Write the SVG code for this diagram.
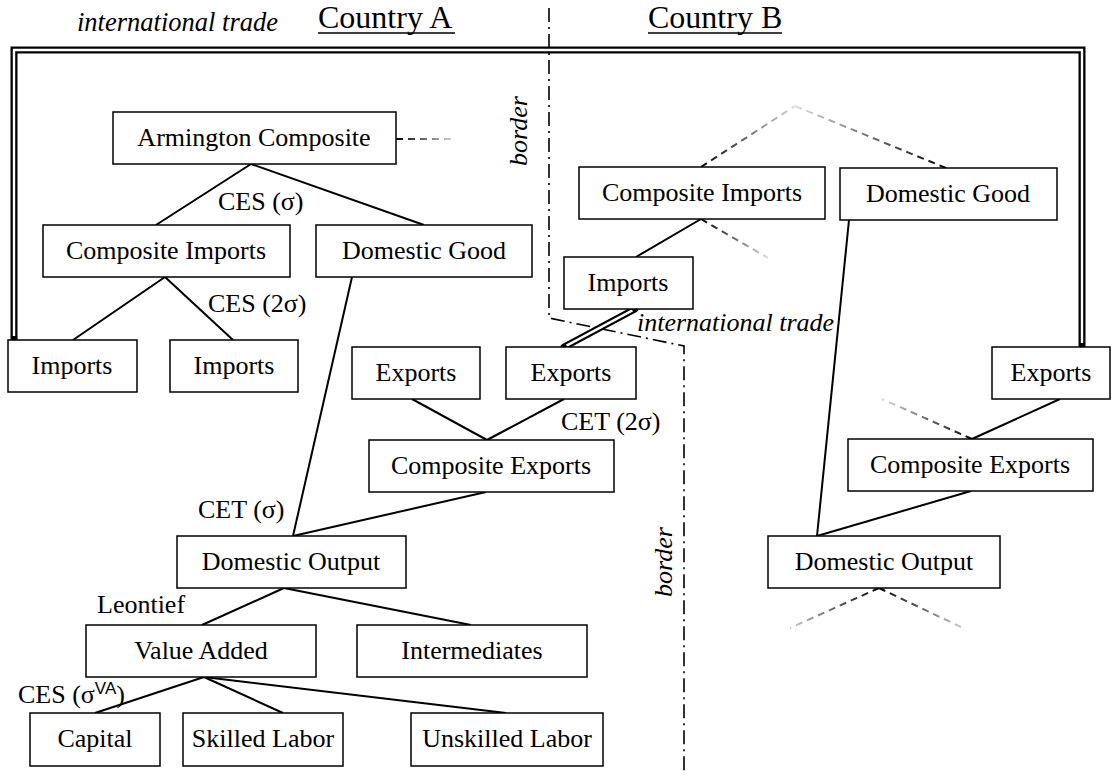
<svg xmlns="http://www.w3.org/2000/svg" width="1115" height="775" viewBox="0 0 1115 775">
<style>
text{font-family:"Liberation Serif","Times New Roman",serif;font-size:26px;fill:#000}
.lbl{text-anchor:middle}
.it{font-style:italic}
.sup{font-family:"Liberation Sans",Arial,sans-serif;font-size:17px}
.box{fill:#fff;stroke:#000;stroke-width:1.5}
.ln{stroke:#000;stroke-width:2;fill:none}
.dash{stroke-width:2;fill:none;stroke-dasharray:7 5}
.border{stroke:#000;stroke-width:1.6;fill:none;stroke-dasharray:14 5 2 5}
.tradeO{stroke:#000;stroke-width:7;fill:none;stroke-linecap:round;stroke-linejoin:miter}
.tradeI{stroke:#fff;stroke-width:2.4;fill:none;stroke-linejoin:miter}
</style>
<defs>
<linearGradient id="g1" gradientUnits="userSpaceOnUse" x1="396" y1="139" x2="455" y2="139"><stop offset="0" stop-color="#000"/><stop offset="1" stop-color="#ddd"/></linearGradient>
<linearGradient id="g2" gradientUnits="userSpaceOnUse" x1="701" y1="167" x2="795" y2="106"><stop offset="0" stop-color="#000"/><stop offset="1" stop-color="#ddd"/></linearGradient>
<linearGradient id="g3" gradientUnits="userSpaceOnUse" x1="946" y1="168" x2="795" y2="106"><stop offset="0" stop-color="#000"/><stop offset="1" stop-color="#ddd"/></linearGradient>
<linearGradient id="g4" gradientUnits="userSpaceOnUse" x1="701" y1="219" x2="768" y2="258"><stop offset="0" stop-color="#000"/><stop offset="1" stop-color="#ddd"/></linearGradient>
<linearGradient id="g5" gradientUnits="userSpaceOnUse" x1="972" y1="439" x2="882" y2="399"><stop offset="0" stop-color="#000"/><stop offset="1" stop-color="#ddd"/></linearGradient>
<linearGradient id="g6" gradientUnits="userSpaceOnUse" x1="879" y1="588" x2="790" y2="628"><stop offset="0" stop-color="#000"/><stop offset="1" stop-color="#ccc"/></linearGradient>
<linearGradient id="g7" gradientUnits="userSpaceOnUse" x1="879" y1="588" x2="963" y2="628"><stop offset="0" stop-color="#000"/><stop offset="1" stop-color="#ccc"/></linearGradient>
</defs>

<g id="headings">
<text x="77" y="31" class="it" style="font-size:26.5px">international trade</text>
<text x="318" y="28" style="font-size:32px">Country A</text>
<line x1="318" y1="33" x2="455" y2="33" stroke="#000" stroke-width="1.5"/>
<text x="648" y="28" style="font-size:32px">Country B</text>
<line x1="648" y1="33" x2="782" y2="33" stroke="#000" stroke-width="1.5"/>
<text transform="translate(527,131) rotate(-90)" class="it lbl">border</text>
<text transform="translate(672,562) rotate(-90)" class="it lbl">border</text>
<text x="637" y="331" class="it">international trade</text>
</g>

<g id="border">
<path class="border" d="M549,8 L549,318 L684,346 L684,775"/>
</g>

<g id="connectors">
<line class="ln" x1="251" y1="164" x2="156" y2="225"/>
<line class="ln" x1="251" y1="164" x2="424" y2="225"/>
<line class="ln" x1="165" y1="277" x2="73" y2="340"/>
<line class="ln" x1="165" y1="277" x2="233" y2="340"/>
<line class="ln" x1="352" y1="277" x2="293" y2="536"/>
<line class="ln" x1="412" y1="399" x2="487" y2="440"/>
<line class="ln" x1="564" y1="399" x2="487" y2="440"/>
<line class="ln" x1="486" y1="492" x2="293" y2="536"/>
<line class="ln" x1="284" y1="588" x2="202" y2="625"/>
<line class="ln" x1="284" y1="588" x2="471" y2="625"/>
<line class="ln" x1="204" y1="677" x2="95" y2="713"/>
<line class="ln" x1="204" y1="677" x2="283" y2="713"/>
<line class="ln" x1="204" y1="677" x2="506" y2="713"/>
<line class="ln" x1="701" y1="219" x2="636" y2="257"/>
<line class="ln" x1="1060" y1="399" x2="972" y2="439"/>
<line class="ln" x1="849" y1="220" x2="817" y2="536"/>
<line class="ln" x1="971" y1="491" x2="817" y2="536"/>
<line x1="396" y1="139" x2="455" y2="139" class="dash" stroke="url(#g1)"/>
<line x1="701" y1="167" x2="795" y2="106" class="dash" stroke="url(#g2)"/>
<line x1="946" y1="168" x2="795" y2="106" class="dash" stroke="url(#g3)"/>
<line x1="701" y1="219" x2="768" y2="258" class="dash" stroke="url(#g4)"/>
<line x1="972" y1="439" x2="882" y2="399" class="dash" stroke="url(#g5)"/>
<line x1="879" y1="588" x2="790" y2="628" class="dash" stroke="url(#g6)"/>
<line x1="879" y1="588" x2="963" y2="628" class="dash" stroke="url(#g7)"/>
<path class="tradeO" d="M14,340 L14,50 L1082,50 L1082,347"/>
<path class="tradeI" d="M14,336 L14,50 L1082,50 L1082,343"/>
<path class="tradeO" d="M635,309 L564,347"/>
<path class="tradeI" d="M632.4,310.4 L566.6,345.6"/>
</g>

<g id="armington"><rect class="box" x="113" y="112" width="283" height="52"/><text class="lbl" x="254" y="146">Armington Composite</text></g>
<text id="ces1" x="218" y="210">CES (σ)</text>
<g id="compImportsA"><rect class="box" x="43" y="225" width="247" height="52"/><text class="lbl" x="166" y="259">Composite Imports</text></g>
<g id="domGoodA"><rect class="box" x="316" y="225" width="216" height="52"/><text class="lbl" x="424" y="259">Domestic Good</text></g>
<text id="ces2" x="208" y="312">CES (2σ)</text>
<g id="importsA1"><rect class="box" x="8" y="340" width="129" height="52"/><text class="lbl" x="72" y="374">Imports</text></g>
<g id="importsA2"><rect class="box" x="170" y="340" width="128" height="52"/><text class="lbl" x="234" y="374">Imports</text></g>
<g id="exportsA1"><rect class="box" x="352" y="347" width="128" height="52"/><text class="lbl" x="416" y="381">Exports</text></g>
<g id="exportsA2"><rect class="box" x="506" y="347" width="130" height="52"/><text class="lbl" x="571" y="381">Exports</text></g>
<text id="cet2" x="561" y="430">CET (2σ)</text>
<g id="compExportsA"><rect class="box" x="369" y="440" width="245" height="52"/><text class="lbl" x="491" y="474">Composite Exports</text></g>
<text id="cet1" x="198" y="518">CET (σ)</text>
<g id="domOutputA"><rect class="box" x="177" y="536" width="229" height="52"/><text class="lbl" x="291" y="570">Domestic Output</text></g>
<text id="leontief" x="97" y="613">Leontief</text>
<g id="valueAdded"><rect class="box" x="86" y="625" width="230" height="52"/><text class="lbl" x="201" y="659">Value Added</text></g>
<g id="intermediates"><rect class="box" x="357" y="625" width="230" height="52"/><text class="lbl" x="472" y="659">Intermediates</text></g>
<text id="cesva" x="18" y="703">CES (σ<tspan class="sup" dy="-9">VA</tspan><tspan dy="9">)</tspan></text>
<g id="capital"><rect class="box" x="30" y="713" width="130" height="53"/><text class="lbl" x="95" y="747">Capital</text></g>
<g id="skilled"><rect class="box" x="183" y="713" width="160" height="53"/><text class="lbl" x="263" y="747">Skilled Labor</text></g>
<g id="unskilled"><rect class="box" x="411" y="713" width="192" height="53"/><text class="lbl" x="507" y="747">Unskilled Labor</text></g>

<g id="compImportsB"><rect class="box" x="579" y="167" width="246" height="52"/><text class="lbl" x="702" y="201">Composite Imports</text></g>
<g id="domGoodB"><rect class="box" x="840" y="168" width="217" height="52"/><text class="lbl" x="948" y="202">Domestic Good</text></g>
<g id="importsB"><rect class="box" x="564" y="257" width="129" height="52"/><text class="lbl" x="628" y="291">Imports</text></g>
<g id="exportsB"><rect class="box" x="992" y="347" width="118" height="52"/><text class="lbl" x="1051" y="381">Exports</text></g>
<g id="compExportsB"><rect class="box" x="848" y="439" width="245" height="52"/><text class="lbl" x="970" y="473">Composite Exports</text></g>
<g id="domOutputB"><rect class="box" x="768" y="536" width="232" height="52"/><text class="lbl" x="884" y="570">Domestic Output</text></g>
</svg>
